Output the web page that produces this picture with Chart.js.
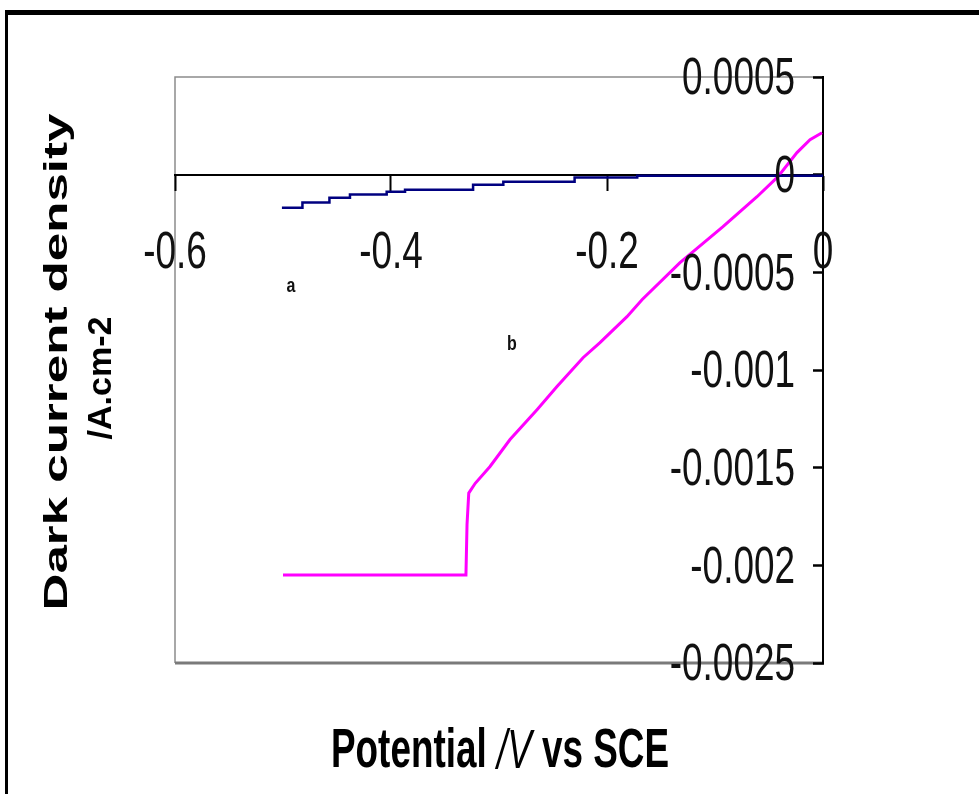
<!DOCTYPE html>
<html>
<head>
<meta charset="utf-8">
<script src="https://cdn.jsdelivr.net/npm/chart.js@4.4.1/dist/chart.umd.min.js"></script>
<style>
  html, body { margin: 0; padding: 0; background: #fff; }
  #wrap { position: relative; width: 979px; height: 794px; }
  canvas { position: absolute; left: 0; top: 0; }
</style>
</head>
<body>
<div id="wrap"><canvas id="jvChart" width="979" height="794"></canvas></div>
<script>
// curve a (blue) - potential V vs SCE / dark current density A.cm-2
const potentialA = [-0.501, -0.482, -0.457, -0.438, -0.404, -0.387, -0.324, -0.296, -0.230, -0.172, 0];
const currentA   = [-0.000169, -0.000143, -0.000118, -0.000102, -0.000087, -0.000077, -0.000051, -0.000036, -0.000015, -0.000005, 0];

// curve b (magenta)
const potentialB = [-0.500, -0.3306, -0.3296, -0.3280, -0.3220, -0.3083, -0.2898, -0.2648, -0.2463, -0.2222,
                    -0.2065, -0.1815, -0.1676, -0.1324, -0.0926, -0.0611, -0.0417, -0.0241, -0.0120, -0.0009];
const currentB   = [-0.00205, -0.00205, -0.00179, -0.00163, -0.00158, -0.001494, -0.001356, -0.001203, -0.001085, -0.000937,
                    -0.000860, -0.000727, -0.000640, -0.000450, -0.000266, -0.000113, -0.000010, 0.000113, 0.000179, 0.000215];

const xTicks = [-0.6, -0.4, -0.2, 0];
const xTickLabels = ['-0.6', '-0.4', '-0.2', '0'];
const yTicks = [0.0005, 0, -0.0005, -0.001, -0.0015, -0.002, -0.0025];
const yTickLabels = ['0.0005', '0', '-0.0005', '-0.001', '-0.0015', '-0.002', '-0.0025'];

// small curve tags sitting in the plot
const tagLabels = ['a', 'b'];
const tagX = [-0.4926, -0.288];
const tagY = [-0.00057, -0.00087];

const SANS = "'Liberation Sans', Arial, sans-serif";
const TICK_FONT = '52px ' + SANS;
const TICK_SQUEEZE = 0.71;   // the original uses a tall, narrow face

const toPoints = (xs, ys) => xs.map((x, i) => ({ x: x, y: ys[i] }));

// draws a line of text (possibly mixed fonts) squeezed/stretched to a target width
function drawFitted(ctx, parts, cx, cy, targetW, rot) {
    ctx.save();
    ctx.translate(cx, cy);
    ctx.rotate(rot);
    let total = 0;
    parts.forEach(p => { ctx.font = p.font; p.w = ctx.measureText(p.text).width; total += p.w; });
    ctx.scale(targetW / total, 1);
    ctx.textBaseline = 'middle';
    ctx.textAlign = 'left';
    ctx.fillStyle = '#000';
    let x = -total / 2;
    parts.forEach(p => { ctx.font = p.font; ctx.fillText(p.text, x, 0); x += p.w; });
    ctx.restore();
}

// narrow text anchored at (x, y)
function drawSqueezed(ctx, text, x, y, align, font, sx) {
    ctx.save();
    ctx.translate(x, y);
    ctx.scale(sx, 1);
    ctx.font = font;
    ctx.textAlign = align;
    ctx.textBaseline = 'middle';
    ctx.fillStyle = '#111';
    ctx.fillText(text, 0, 0);
    ctx.restore();
}

const framePlugin = {
    id: 'frame',
    beforeDraw(chart) {
        const { ctx, chartArea: a } = chart;
        ctx.save();
        ctx.fillStyle = '#fff';
        ctx.fillRect(0, 0, chart.width, chart.height);
        // outer picture border
        ctx.fillStyle = '#000';
        ctx.fillRect(5, 10, chart.width - 5, 5);
        ctx.fillRect(5, 10, 3, chart.height - 10);
        // grey plot frame
        ctx.strokeStyle = '#8c8c8c';
        ctx.lineWidth = 1.5;
        ctx.beginPath();
        ctx.moveTo(a.right, a.top);
        ctx.lineTo(a.left, a.top);
        ctx.lineTo(a.left, a.bottom);
        ctx.stroke();
        ctx.lineWidth = 3;
        ctx.strokeStyle = '#7a7a7a';
        ctx.beginPath();
        ctx.moveTo(a.left, a.bottom);
        ctx.lineTo(a.right, a.bottom);
        ctx.stroke();
        ctx.restore();
    },
    afterDatasetsDraw(chart) {
        const { ctx, scales } = chart;
        tagLabels.forEach((t, i) => {
            drawSqueezed(ctx, t, scales.x.getPixelForValue(tagX[i]), scales.y.getPixelForValue(tagY[i]),
                'center', 'bold 20px ' + SANS, 0.8);
        });
    },
    afterDraw(chart) {
        const ctx = chart.ctx;
        const { x, y } = chart.scales;
        const zeroY = y.getPixelForValue(0);
        const axisX = x.getPixelForValue(0);

        // tick labels, placed from the scales' own ticks
        x.ticks.forEach((t, i) => {
            drawSqueezed(ctx, xTickLabels[i], x.getPixelForValue(t.value), zeroY + 79, 'center', TICK_FONT, TICK_SQUEEZE);
        });
        y.ticks.forEach((t, i) => {
            drawSqueezed(ctx, yTickLabels[i], axisX - 28, y.getPixelForValue(t.value) + 3, 'right', TICK_FONT, TICK_SQUEEZE);
        });

        const bold = 'bold 34px ' + SANS;
        drawFitted(ctx, [{ text: 'Dark current density', font: bold }], 58, 362, 497, -Math.PI / 2);
        drawFitted(ctx, [{ text: '/A.cm-2', font: bold }], 102, 378, 123, -Math.PI / 2);
        drawFitted(ctx, [
            { text: 'Potential ', font: 'bold 56px ' + SANS },
            { text: '/V', font: 'italic 56px ' + SANS },
            { text: ' vs SCE', font: 'bold 56px ' + SANS }
        ], 500, 752, 338, 0);
    }
};

const ctx = document.getElementById('jvChart').getContext('2d');
new Chart(ctx, {
    type: 'scatter',
    data: {
        datasets: [
            {
                label: 'a',
                data: toPoints(potentialA, currentA),
                showLine: true,
                stepped: true,
                borderColor: '#000080',
                borderWidth: 2.5,
                pointRadius: 0
            },
            {
                label: 'b',
                data: toPoints(potentialB, currentB),
                showLine: true,
                borderColor: '#ff00ff',
                borderWidth: 3,
                pointRadius: 0
            }
        ]
    },
    options: {
        responsive: false,
        animation: false,
        devicePixelRatio: 1,
        layout: { padding: { left: 175, right: 156, top: 77, bottom: 131 } },
        plugins: {
            legend: { display: false },
            tooltip: { enabled: false }
        },
        scales: {
            x: {
                type: 'linear',
                position: { y: 0 },
                min: -0.6,
                max: 0,
                afterBuildTicks: scale => { scale.ticks = xTicks.map(v => ({ value: v })); },
                ticks: { display: false },
                grid: { drawOnChartArea: false, tickLength: 15, tickWidth: 2, tickColor: '#000' },
                border: { color: '#000', width: 2 }
            },
            y: {
                type: 'linear',
                position: 'right',
                min: -0.0025,
                max: 0.0005,
                afterBuildTicks: scale => { scale.ticks = yTicks.map(v => ({ value: v })); },
                afterFit: scale => { scale.width = 0; },
                ticks: { display: false },
                grid: { drawOnChartArea: false, tickLength: -10, tickWidth: 2.5, tickColor: '#000' },
                border: { color: '#000', width: 2 }
            }
        }
    },
    plugins: [framePlugin]
});
</script>
</body>
</html>
